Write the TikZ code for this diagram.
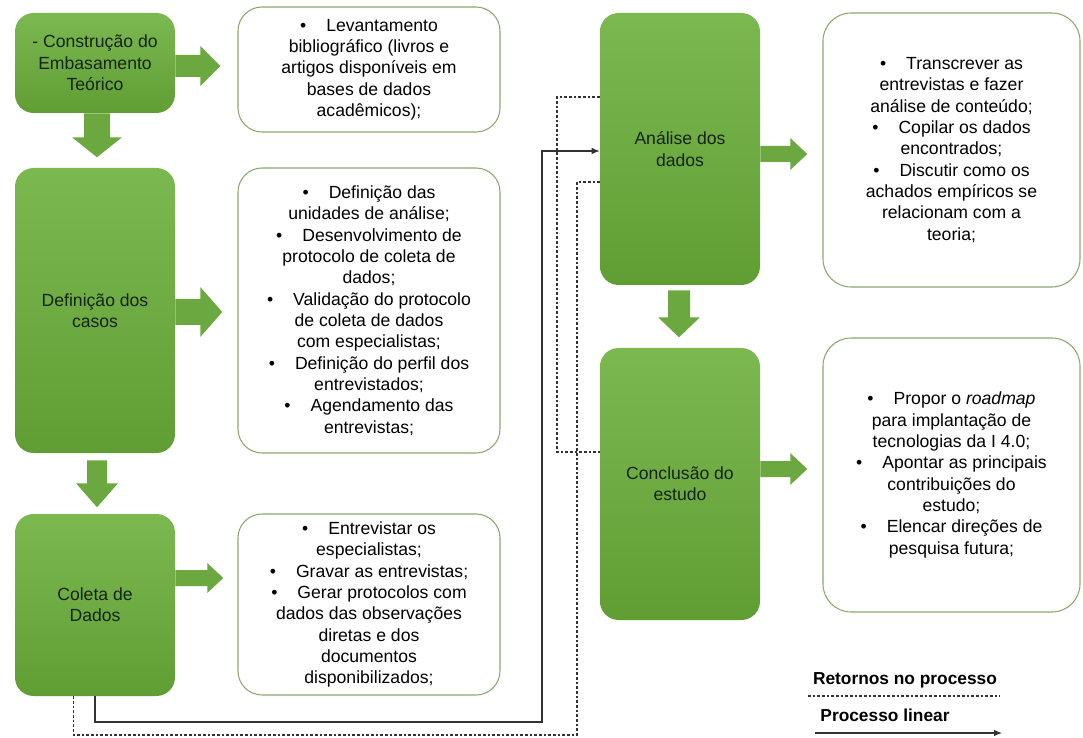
\documentclass[tikz,border=0pt]{standalone}
\usepackage{fontspec}
\setmainfont{Liberation Sans}
\usetikzlibrary{calc,arrows.meta}

\definecolor{gtop}{RGB}{124,184,80}
\definecolor{gbot}{RGB}{96,158,52}
\definecolor{garrow}{RGB}{108,168,64}
\definecolor{gtext}{RGB}{20,36,12}
\definecolor{wborder}{RGB}{140,168,112}
\definecolor{linec}{RGB}{50,50,50}

\tikzset{
  gbox/.style={rectangle, rounded corners=14pt, top color=gtop, bottom color=gbot,
    draw=none, align=center, text=gtext, font=\fontsize{13.2}{16}\selectfont,
    inner sep=2pt, minimum width=120pt},
  wbox/.style={rectangle, rounded corners=18pt, draw=wborder, line width=0.8pt,
    fill=white, align=center, font=\fontsize{13.2}{16}\selectfont,
    inner sep=2pt, minimum width=196.5pt},
  blockarrow/.style={fill=garrow, draw=none},
  retorno/.style={draw=linec, line width=0.95pt, dash pattern=on 2pt off 1.5pt},
  linear/.style={draw=linec, line width=0.9pt, -{Latex[length=6pt,width=5pt]}},
  legendtext/.style={font=\bfseries\fontsize{13}{15}\selectfont}
}

% bullet followed by the tab gap
\newcommand\bl{\textbullet\hspace{15pt}}

% block arrow pointing right: start, length, head length, shaft half, head half
\newcommand\arrowR[5]{%
  \fill[blockarrow] ($(#1)+(0,-#4)$) -- ($(#1)+({#2-#3},-#4)$) -- ($(#1)+({#2-#3},-#5)$)
    -- ($(#1)+(#2,0)$) -- ($(#1)+({#2-#3},#5)$) -- ($(#1)+({#2-#3},#4)$)
    -- ($(#1)+(0,#4)$) -- cycle;}
% block arrow pointing down
\newcommand\arrowD[5]{%
  \fill[blockarrow] ($(#1)+(-#4,0)$) -- ($(#1)+(-#4,{#2-#3})$) -- ($(#1)+(-#5,{#2-#3})$)
    -- ($(#1)+(0,#2)$) -- ($(#1)+(#5,{#2-#3})$) -- ($(#1)+(#4,{#2-#3})$)
    -- ($(#1)+(#4,0)$) -- cycle;}

\begin{document}
\begin{tikzpicture}[x=0.75pt,y=-0.75pt]
\useasboundingbox[fill=white] (0,0) rectangle (1083,738);

% left column
\node[gbox, minimum height=75pt] (b1) at (95,63) {- Construção do\\Embasamento\\Teórico};
\node[wbox, minimum height=93.75pt] (w1) at (369,69.5)
  {\bl Levantamento\\bibliográfico (livros e\\artigos disponíveis em\\bases de dados\\acadêmicos);};

\node[gbox, minimum height=213.75pt] (b2) at (95,310.5) {Definição dos\\casos};
\node[wbox, minimum height=213.75pt] (w2) at (369,310.5)
  {\bl Definição das\\unidades de análise;\\
   \bl Desenvolvimento de\\protocolo de coleta de\\dados;\\
   \bl Validação do protocolo\\de coleta de dados\\com especialistas;\\
   \bl Definição do perfil dos\\entrevistados;\\
   \bl Agendamento das\\entrevistas;};

\node[gbox, minimum height=136.5pt] (b3) at (95,605) {Coleta de\\Dados};
\node[wbox, minimum height=135.75pt] (w3) at (369,604.5)
  {\bl Entrevistar os\\especialistas;\\
   \bl Gravar as entrevistas;\\
   \bl Gerar protocolos com\\dados das observações\\diretas e dos\\documentos\\disponibilizados;};

% right column
\node[gbox, minimum height=204pt] (an) at (680,149) {Análise dos\\dados};
\node[wbox, rounded corners=21pt, minimum width=192.75pt, minimum height=205.5pt] (wa) at (951.5,150)
  {\bl Transcrever as\\entrevistas e fazer\\análise de conteúdo;\\
   \bl Copilar os dados\\encontrados;\\
   \bl Discutir como os\\achados empíricos se\\relacionam com a\\teoria;};

\node[gbox, minimum height=204pt] (co) at (680,484) {Conclusão do\\estudo};
\node[wbox, rounded corners=21pt, minimum width=192.75pt, minimum height=205.5pt] (wc) at (951.5,475)
  {\bl Propor o \textit{roadmap}\\para implantação de\\tecnologias da I 4.0;\\
   \bl Apontar as principais\\contribuições do\\estudo;\\
   \bl Elencar direções de\\pesquisa futura;};

% block arrows
\coordinate (r1) at ($(b1.east)+(0,3)$);
\coordinate (r2) at ($(b2.east)+(0,1.5)$);
\coordinate (r3) at ($(b3.east)+(0,-27)$);
\coordinate (ra) at ($(an.east)+(0,5)$);
\coordinate (rc) at ($(co.east)+(0,-15)$);
\arrowR{r1}{45}{20}{11}{20}
\arrowR{r2}{47}{22}{13}{25}
\arrowR{r3}{48}{16}{8}{15}
\arrowR{ra}{47}{17}{8}{16}
\arrowR{rc}{47}{17}{8}{16}

\coordinate (d1) at ($(b1.south)+(2,0)$);
\coordinate (d2) at ($(b2.south)+(2,7)$);
\coordinate (d3) at ($(an.south)+(-1,5)$);
\arrowD{d1}{44}{20}{13}{25}
\arrowD{d2}{47}{24}{10}{21}
\arrowD{d3}{47}{20}{11}{21}

% linear process
\coordinate (solidTurn) at (542,722);
\draw[linear] (b3.south) |- (solidTurn) |- ($(an.west)+(0,2)$);

% returns in the process
\coordinate (retA) at ($(b3.south west)+(59,0)$);
\coordinate (retTurn) at (577,735);
\draw[retorno] (retA) |- (retTurn) |- ($(an.west)+(0,33)$);
\coordinate (retTurn2) at (557,452);
\draw[retorno] ($(an.west)+(0,-52)$) -| (retTurn2) -- (retTurn2 -| co.west);

% legend
\node[legendtext] (lg1) at (905,680) {Retornos no processo};
\coordinate (lgA) at (808,696);
\coordinate (lgB) at (1000,696);
\draw[retorno] (lgA) -- (lgB);
\node[legendtext] (lg2) at (885,715) {Processo linear};
\coordinate (lgC) at (815,733);
\coordinate (lgD) at (1002,733);
\draw[linear] (lgC) -- (lgD);
\end{tikzpicture}
\end{document}
